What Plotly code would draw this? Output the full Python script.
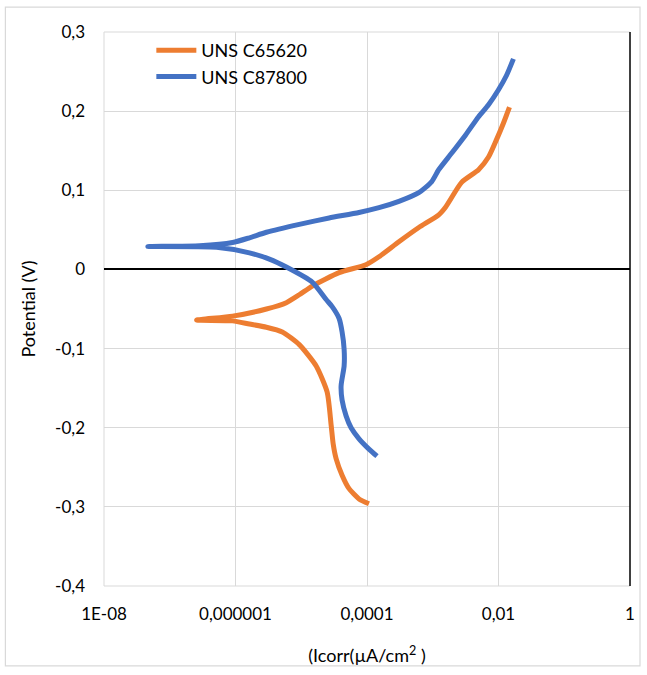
import plotly.graph_objects as go

# Polarization curves: log10 of current density and potential (V),
# each traced from the cathodic end, through the corrosion tip, to the anodic end.
c65620_log_i = [-3.970, -4.121, -4.273, -4.379, -4.470, -4.515, -4.545, -4.606, -4.773,
                -5.030, -5.288, -5.530, -5.788, -6.045, -6.591,
                -6.045, -5.530, -5.227, -5.030, -4.833, -4.424, -4.015, -3.818, -3.515,
                -3.212, -2.909, -2.803, -2.561, -2.303, -2.152, -2.030, -1.924, -1.833]
c65620_e = [-0.296, -0.290, -0.277, -0.260, -0.239, -0.220, -0.197, -0.155, -0.122,
            -0.095, -0.079, -0.073, -0.069, -0.065, -0.064,
            -0.059, -0.050, -0.042, -0.032, -0.021, -0.004, 0.006, 0.016, 0.035,
            0.053, 0.069, 0.079, 0.110, 0.126, 0.142, 0.164, 0.185, 0.205]

c87800_log_i = [-3.848, -3.970, -4.121, -4.242, -4.318, -4.379, -4.394, -4.348, -4.348,
                -4.379, -4.424, -4.530, -4.621, -4.833, -5.227, -5.485, -5.788, -6.288,
                -7.333,
                -6.545, -6.045, -5.788, -5.530, -5.030, -4.576, -4.121, -3.818, -3.515,
                -3.212, -3.015, -2.909, -2.712, -2.500, -2.303, -2.152, -2.000, -1.879,
                -1.773]
c87800_e = [-0.236, -0.227, -0.214, -0.200, -0.185, -0.165, -0.147, -0.122, -0.101,
            -0.079, -0.062, -0.047, -0.038, -0.016, 0.003, 0.013, 0.021, 0.028,
            0.029,
            0.030, 0.034, 0.040, 0.047, 0.057, 0.065, 0.072, 0.078, 0.086,
            0.097, 0.111, 0.126, 0.147, 0.170, 0.193, 0.208, 0.227, 0.245,
            0.266]

x_tickvals = [1e-8, 1e-6, 1e-4, 1e-2, 1]
x_ticktext = ["1E-08", "0,000001", "0,0001", "0,01", "1"]
y_tickvals = [-0.4, -0.3, -0.2, -0.1, 0, 0.1, 0.2, 0.3]
y_ticktext = ["-0,4", "-0,3", "-0,2", "-0,1", "0", "0,1", "0,2", "0,3"]

FONT = "Lato"
ORANGE = "#ED7D31"
BLUE = "#4472C4"
GRID = "#D9D9D9"

fig = go.Figure()
fig.add_trace(go.Scatter(
    x=[10 ** v for v in c65620_log_i], y=c65620_e, mode="lines", name="UNS C65620",
    line=dict(color=ORANGE, width=5, shape="spline", smoothing=0.6),
))
fig.add_trace(go.Scatter(
    x=[10 ** v for v in c87800_log_i], y=c87800_e, mode="lines", name="UNS C87800",
    line=dict(color=BLUE, width=5, shape="spline", smoothing=0.6),
))

edge = dict(color=GRID, width=1)
fig.update_layout(
    width=647, height=675,
    margin=dict(l=104, r=15, t=32, b=87),
    paper_bgcolor="white", plot_bgcolor="white",
    font=dict(family=FONT, size=17, color="#000000"),
    showlegend=True,
    legend=dict(x=0.09, y=1.0, xanchor="left", yanchor="top",
                bgcolor="rgba(0,0,0,0)", font=dict(size=18), tracegroupgap=0,
                itemwidth=40),
    xaxis=dict(
        type="log", range=[-8, 0],
        tickvals=x_tickvals, ticktext=x_ticktext,
        showgrid=True, gridcolor=GRID, gridwidth=1,
        showline=False, zeroline=False, ticks="",
        ticklabelstandoff=16,
        title=dict(text="(Icorr(µA/cm<sup>2</sup> )", font=dict(size=18), standoff=26),
    ),
    yaxis=dict(
        range=[-0.4, 0.3],
        tickvals=y_tickvals, ticktext=y_ticktext,
        showgrid=True, gridcolor=GRID, gridwidth=1,
        zeroline=True, zerolinecolor="#000000", zerolinewidth=1.5,
        showline=False, ticks="",
        ticklabelstandoff=18,
        title=dict(text="Potential (V)", font=dict(size=18), standoff=14),
    ),
    shapes=[
        # gridlines along the plot edges
        dict(type="line", xref="paper", yref="paper", x0=0, x1=0, y0=0, y1=1,
             line=edge, layer="below"),
        dict(type="line", xref="paper", yref="paper", x0=0, x1=1, y0=0, y1=0,
             line=edge, layer="below"),
        dict(type="line", xref="paper", yref="paper", x0=0, x1=1, y0=1, y1=1,
             line=edge, layer="below"),
        # vertical axis line drawn at the right edge (x = 1)
        dict(type="line", xref="paper", yref="y", x0=1, x1=1, y0=-0.4, y1=0.3,
             line=dict(color="#000000", width=1.5)),
        # outer chart border
        dict(type="rect", xref="paper", yref="paper",
             x0=-0.1875, x1=1.019, y0=-0.144, y1=1.045,
             line=dict(color=GRID, width=1.2), layer="below"),
    ],
)

fig.write_html("out.html")
